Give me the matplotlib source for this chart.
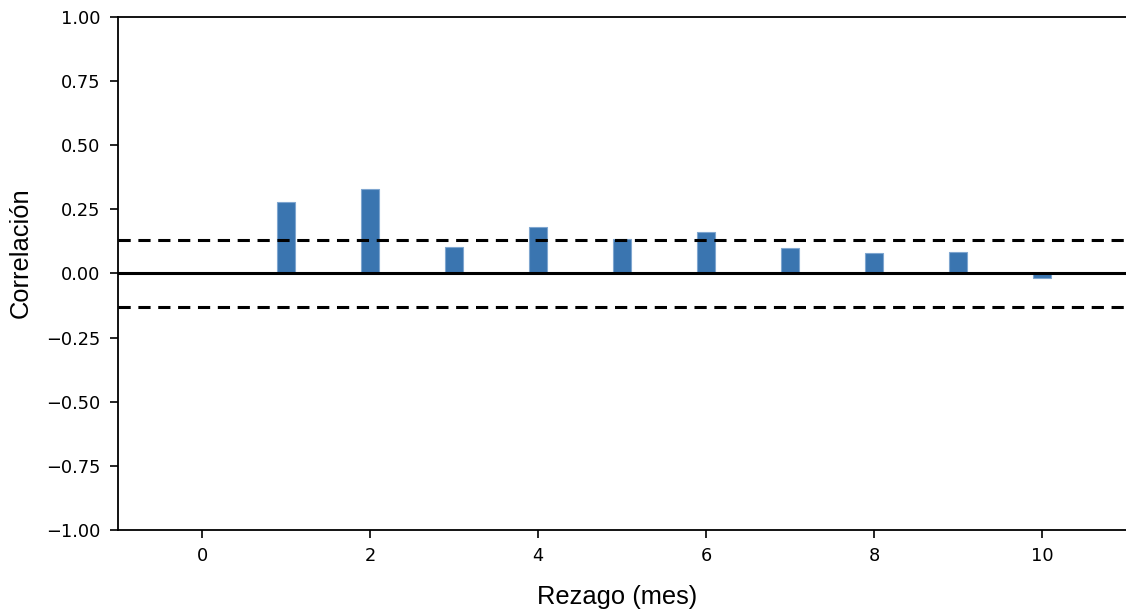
import matplotlib
matplotlib.use("Agg")
import matplotlib.pyplot as plt

lags = [1, 2, 3, 4, 5, 6, 7, 8, 9, 10]
corr = [0.28, 0.33, 0.102, 0.181, 0.134, 0.161, 0.098, 0.080, 0.083, -0.019]
conf = 0.13
xticks = [0, 2, 4, 6, 8, 10]
yticks = [-1.0, -0.75, -0.5, -0.25, 0.0, 0.25, 0.5, 0.75, 1.0]

fig = plt.figure(figsize=(11.26, 6.15), dpi=100)
ax = fig.add_axes([0.1048, 0.1382, 0.8952, 0.8342])

ax.bar(lags, corr, width=0.21, color="#3a75b0", edgecolor="#7fa6d0", linewidth=0.8, zorder=2)
ax.axhline(0, color="black", linewidth=2.2, zorder=3)
ax.axhline(conf, color="black", linewidth=2.2, linestyle=(0, (4, 2.5)), zorder=3)
ax.axhline(-conf, color="black", linewidth=2.2, linestyle=(0, (4, 2.5)), zorder=3)

ax.set_xlim(-1, 11)
ax.set_ylim(-1, 1)
ax.set_xticks(xticks)
ax.set_yticks(yticks)
ax.set_yticklabels([f"{v:.2f}".replace("-", "\u2212") for v in yticks])
ax.tick_params(labelsize=12.8, width=1.2, length=6)
ax.tick_params(axis="y", pad=6.5)
ax.tick_params(axis="x", pad=6)
ax.spines["right"].set_visible(False)
for s in ["left", "top", "bottom"]:
    ax.spines[s].set_linewidth(1.3)

ax.set_xlabel("Rezago (mes)", fontsize=18.4, family="Liberation Sans")
ax.set_ylabel("Correlación", fontsize=18.4, family="Liberation Sans")
ax.xaxis.set_label_coords(0.495, -0.108)
ax.yaxis.set_label_coords(-0.0843, 0.54)

fig.savefig("out.png", dpi=100)
